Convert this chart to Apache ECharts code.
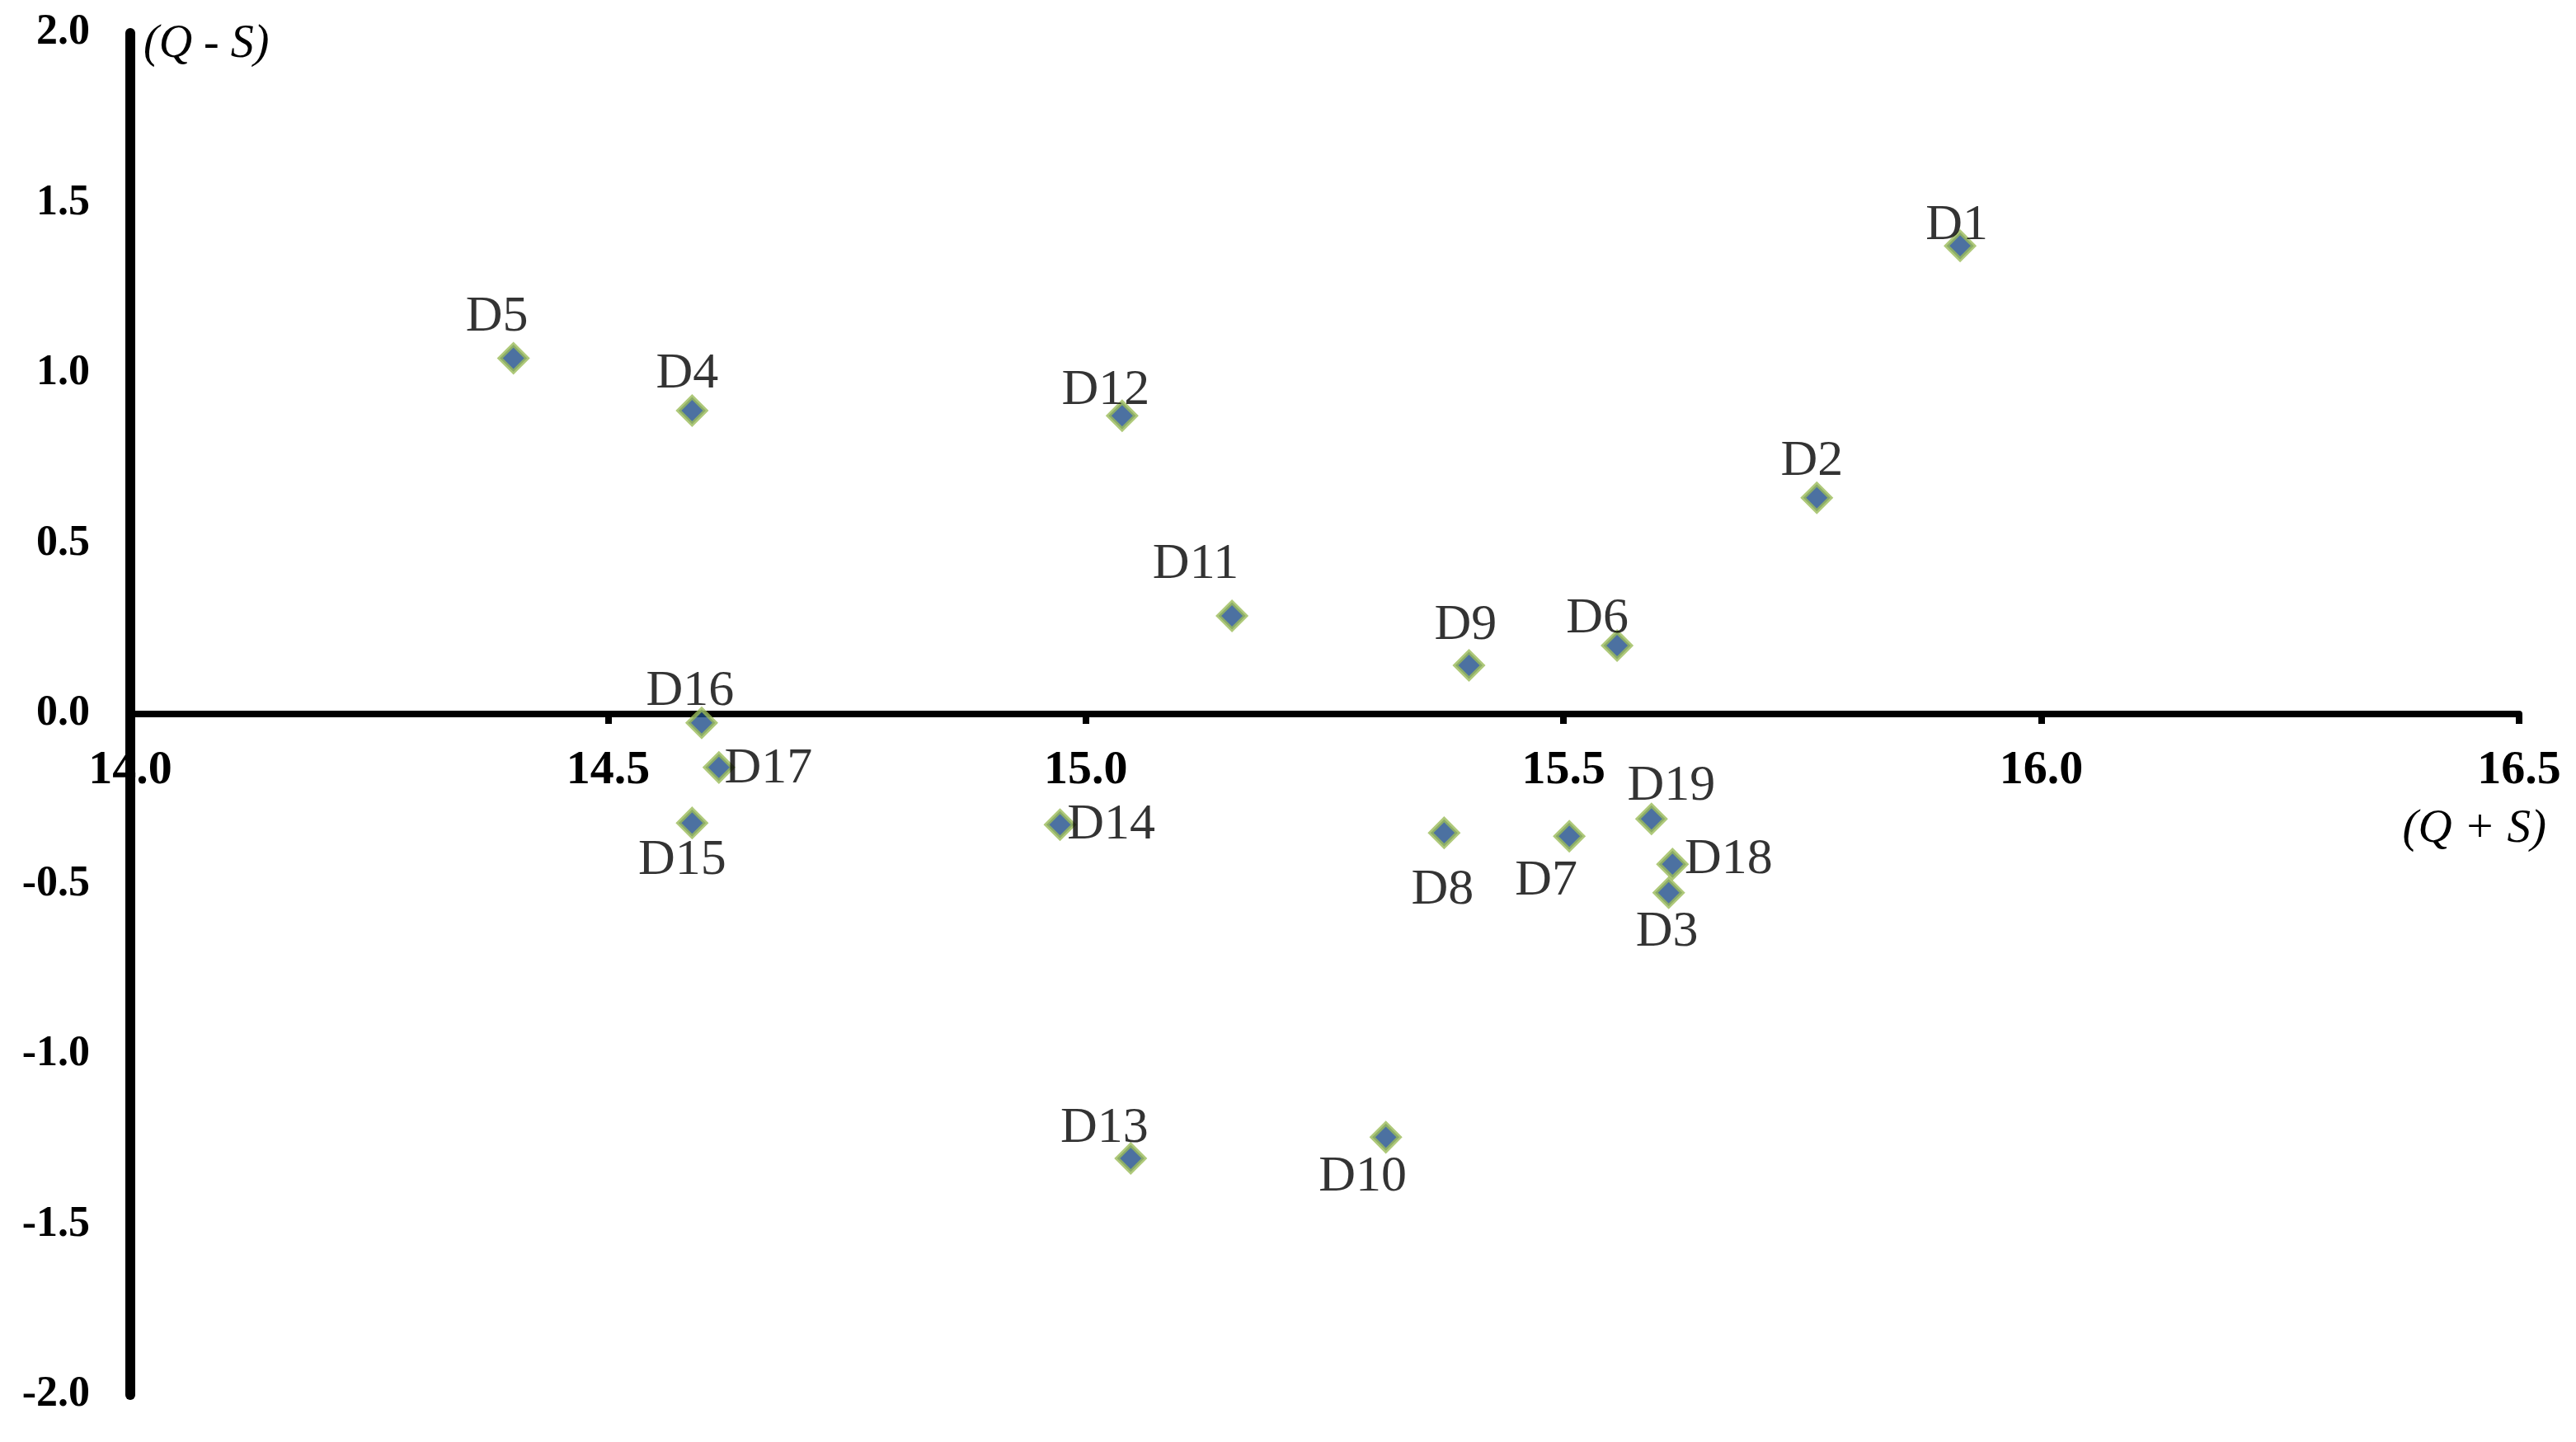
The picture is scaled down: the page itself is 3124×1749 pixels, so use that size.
<!DOCTYPE html>
<html>
<head>
<meta charset="utf-8">
<script src="https://cdn.jsdelivr.net/npm/echarts@6/dist/echarts.min.js"></script>
<style>
  html, body {
    margin: 0;
    padding: 0;
    background: #fff;
  }
  #echart {
    width: 3124px;
    height: 1749px;
  }
</style>
</head>
<body>
<div id="echart"></div>
<script>
// D1..D19
var names = ['D1', 'D2', 'D3', 'D4', 'D5', 'D6', 'D7', 'D8', 'D9', 'D10',
  'D11', 'D12', 'D13', 'D14', 'D15', 'D16', 'D17', 'D18', 'D19'];
var qPlusS = [15.915, 15.765, 15.610, 14.588, 14.401, 15.556, 15.506, 15.375, 15.401, 15.314,
  15.153, 15.038, 15.047, 14.973, 14.588, 14.598, 14.616, 15.614, 15.592];
var qMinusS = [1.375, 0.635, -0.525, 0.891, 1.045, 0.201, -0.359, -0.349, 0.143, -1.243,
  0.288, 0.876, -1.305, -0.325, -0.320, -0.026, -0.157, -0.441, -0.308];

var xTicks = {min: 14.0, max: 16.5, step: 0.5};
var yTicks = {min: -2.0, max: 2.0, step: 0.5};

// where each name sits relative to its point (px)
var labelOffset = {
  D1: [-4, -24], D2: [-6, -44], D3: [-2, 48], D4: [-6, -44], D5: [-20, -50],
  D6: [-24, -32], D7: [-28, 54], D8: [-2, 70], D9: [-4, -48], D10: [-28, 48],
  D11: [-44, -62], D12: [-20, -30], D13: [-32, -36], D14: [62, 0], D15: [-12, 46],
  D16: [-14, -38], D17: [60, 2], D18: [68, -5], D19: [24, -39]
};

var serif = '"Liberation Serif", "Times New Roman", serif';

var points = [];
for (var i = 0; i < names.length; i++) {
  points.push({
    name: names[i],
    value: [qPlusS[i], qMinusS[i]],
    label: {offset: labelOffset[names[i]]}
  });
}

var gridTop = 40;
var gridBottom = 57;
var gridHeight = 1749 - gridTop - gridBottom;
// the x axis (with its labels) sits on y = 0, not at the bottom of the grid
var zeroLift = gridHeight * (0 - yTicks.min) / (yTicks.max - yTicks.min);

var myChart = echarts.init(document.getElementById('echart'));
var option = {
  animation: false,
  backgroundColor: '#fff',
  grid: {
    left: 158,
    right: 69,
    top: gridTop,
    bottom: gridBottom,
    outerBoundsMode: 'none'
  },
  xAxis: {
    type: 'value',
    min: xTicks.min,
    max: xTicks.max,
    interval: xTicks.step,
    offset: -zeroLift,
    name: '(Q + S)',
    nameLocation: 'end',
    nameGap: 33,
    nameTextStyle: {
      fontFamily: serif,
      fontStyle: 'italic',
      fontSize: 57,
      color: '#000',
      align: 'right',
      verticalAlign: 'top',
      padding: [112, 0, 0, 0]
    },
    axisLine: {
      onZero: false,
      lineStyle: {color: '#000', width: 8}
    },
    axisTick: {
      show: true,
      inside: false,
      length: 12,
      lineStyle: {color: '#000', width: 8}
    },
    axisLabel: {
      margin: 40,
      fontFamily: serif,
      fontWeight: 'bold',
      fontSize: 58,
      color: '#000',
      showMinLabel: true,
      showMaxLabel: true,
      formatter: function (v) {
        return v.toFixed(1);
      }
    },
    splitLine: {show: false}
  },
  yAxis: {
    type: 'value',
    min: yTicks.min,
    max: yTicks.max,
    interval: yTicks.step,
    name: '(Q - S)',
    nameLocation: 'end',
    nameGap: -14,
    nameTextStyle: {
      fontFamily: serif,
      fontStyle: 'italic',
      fontSize: 56,
      color: '#000',
      align: 'left',
      verticalAlign: 'middle',
      padding: [0, 0, 0, 16]
    },
    axisLine: {
      show: true,
      onZero: false,
      lineStyle: {color: '#000', width: 12}
    },
    axisTick: {show: false},
    axisLabel: {
      margin: 49,
      fontFamily: serif,
      fontWeight: 'bold',
      fontSize: 52,
      color: '#000',
      formatter: function (v) {
        return v.toFixed(1);
      }
    },
    splitLine: {show: false}
  },
  series: [
    {
      type: 'scatter',
      symbol: 'diamond',
      symbolSize: 33,
      itemStyle: {
        color: '#1f4e89',
        borderColor: '#9bbb59',
        borderWidth: 5
      },
      label: {
        show: true,
        position: 'inside',
        formatter: '{b}',
        fontFamily: serif,
        fontSize: 62,
        color: '#000'
      },
      data: points
    }
  ]
};
myChart.setOption(option);
</script>
</body>
</html>
